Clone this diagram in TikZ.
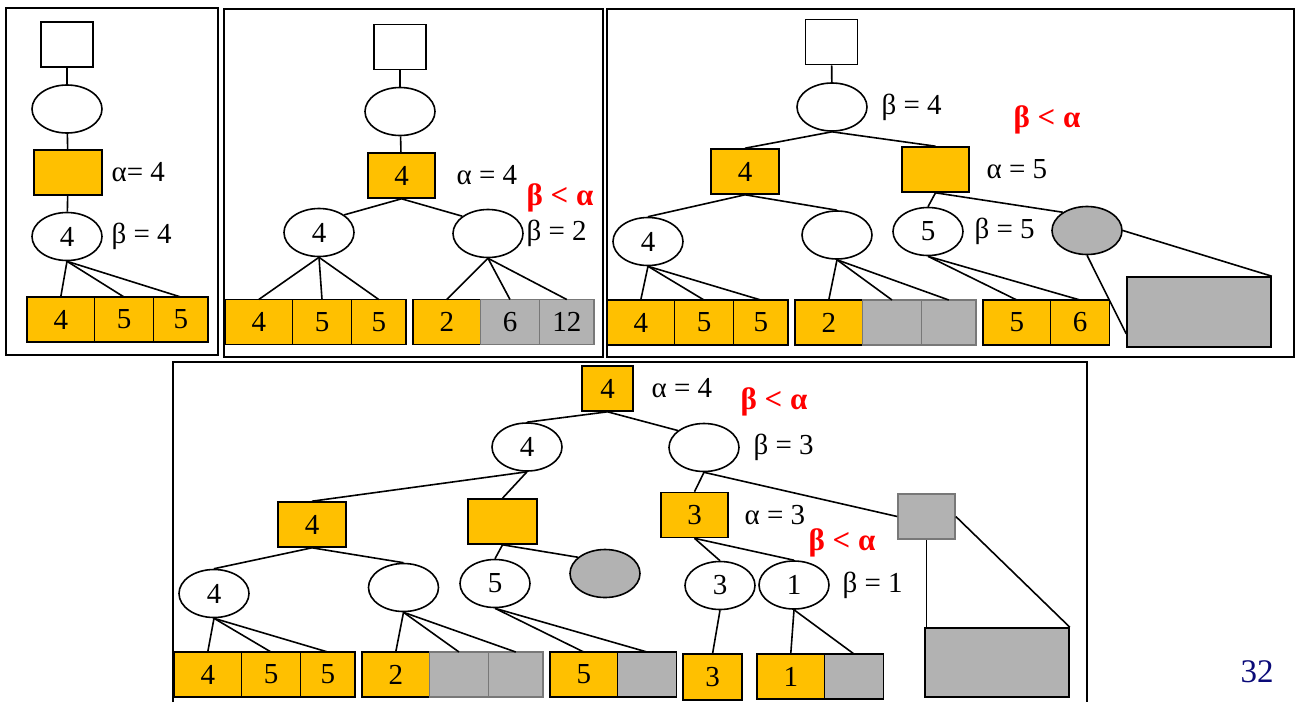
\documentclass[tikz,border=0pt]{standalone}
\usepackage{fontspec}
\setmainfont{Liberation Serif}
\usepackage{tikz}
\usetikzlibrary{calc, shapes.geometric, positioning}

\definecolor{gold}{RGB}{255,192,0}
\definecolor{cutgray}{RGB}{178,178,178}
\definecolor{edgegray}{RGB}{120,120,120}
\definecolor{pagenavy}{RGB}{10,10,120}

\begin{document}
\begin{tikzpicture}[x=1pt, y=-1pt, line width=1.6pt,
    font=\fontsize{29}{34}\selectfont,
    root/.style={rectangle, draw, minimum width=52pt, minimum height=45pt, inner sep=0pt},
    maxbox/.style={rectangle, draw, fill=gold, minimum width=#1, minimum height=45pt, inner sep=0pt},
    maxbox/.default=68pt,
    minnode/.style={ellipse, draw, minimum width=70pt, minimum height=48pt, inner sep=0pt},
    cutnode/.style={minnode, fill=cutgray},
    leaf/.style={rectangle, draw, fill=gold, minimum width=#1, minimum height=45pt, inner sep=0pt, outer sep=0pt},
    leaf/.default=67.5pt,
    cutleaf/.style={leaf=#1, fill=cutgray, draw=edgegray},
    cutleaf/.default=59pt,
    cutbox/.style={rectangle, draw=edgegray, fill=cutgray, minimum width=57pt, minimum height=45pt},
    subtree/.style={rectangle, draw, fill=cutgray, minimum width=144pt, minimum height=70pt},
    val/.style={inner sep=0pt},
    cut/.style={inner sep=0pt, text=red, font=\fontsize{31}{36}\selectfont\bfseries}]
    \useasboundingbox (0,0) rectangle (1295,702);

    % frames
    \draw (6,8) rectangle (218,355);
    \draw (224,9) rectangle (603,357);
    \draw (607,9) rectangle (1294,357);
    \draw (173,702) |- (1087,362) -- (1087,702);

    % first step
    \node[root] (a0) at (67,44.5) {};
    \node[minnode] (a1) at (67,109) {};
    \node[maxbox] (a2) at (68,172.5) {};
    \node[minnode] (a3) at (67,236.5) {4};
    \node[val, right=8pt of a2] (a2v) {α= 4};
    \node[val, right=8pt of a3] (a3v) {β = 4};
    \node[leaf] (a4) at (60.75,319.5) {4};
    \node[leaf=59pt, right=0pt of a4] (a5) {5};
    \node[leaf=54.5pt, right=0pt of a5] (a6) {5};
    \draw (a0) -- (a1);
    \draw (a1) -- (a2);
    \draw (a2) -- (a3);
    \draw (a3.south) -- (a4.north);
    \draw (a3.south) -- (a5.north);
    \draw (a3.south) -- (a6.north);

    % second step
    \node[root] (b0) at (400,47) {};
    \node[minnode] (b1) at (400,111.5) {};
    \node[maxbox=67pt] (b2) at (401.5,175.5) {4};
    \node[minnode] (b3) at (319,232.5) {4};
    \node[minnode] (b4) at (488,233.5) {};
    \node[val, right=20pt of b2] (b2v) {α = 4};
    \node[val, right=2pt of b4] (b4v) {β = 2};
    \node[cut] (b4c) at (560,198) {β < α};
    \node[leaf] (b5) at (258.75,322) {4};
    \node[leaf=59pt, right=0pt of b5] (b6) {5};
    \node[leaf=54.5pt, right=0pt of b6] (b7) {5};
    \node[leaf] (b8) at (446.75,322) {2};
    \node[cutleaf, right=0pt of b8] (b9) {6};
    \node[cutleaf=54.5pt, right=0pt of b9] (b10) {12};
    \draw (b0) -- (b1);
    \draw (b1) -- (b2);
    \draw (b2.south) -- (b3.35);
    \draw (b2.south) -- (b4.146);
    \draw (b3.south) -- (b5.north);
    \draw (b3.south) -- (b6.north);
    \draw (b3.south) -- (b7.north);
    \draw (b4.south) -- (b8.north);
    \draw (b4.south) -- (b9.north);
    \draw (b4.south) -- (b10.north);

    % third step
    \node[root] (c0) at (831.5,42) {};
    \node[minnode] (c1) at (832,107) {};
    \node[maxbox] (c2) at (745,171.5) {4};
    \node[maxbox=67pt] (c3) at (935.5,169.5) {};
    \node[minnode] (c4) at (648,241.5) {4};
    \node[minnode] (c5) at (837,235) {};
    \node[minnode] (c6) at (928,231.5) {5};
    \node[cutnode] (c7) at (1087,230.5) {};
    \node[val, right=13pt of c1] (c1v) {β = 4};
    \node[cut] (c1c) at (1047,120) {β < α};
    \node[val, right=16pt of c3] (c3v) {α = 5};
    \node[val, right=10pt of c6] (c6v) {β = 5};
    \node[leaf] (c8) at (640.75,322.5) {4};
    \node[leaf=59pt, right=0pt of c8] (c9) {5};
    \node[leaf=54.5pt, right=0pt of c9] (c10) {5};
    \node[leaf] (c11) at (828.75,322.5) {2};
    \node[cutleaf, right=0pt of c11] (c12) {};
    \node[cutleaf=54.5pt, right=0pt of c12] (c13) {};
    \node[leaf] (c14) at (1016.75,322.5) {5};
    \node[leaf=59pt, right=0pt of c14] (c15) {6};
    \node[subtree] (c16) at (1199,312) {};
    \draw (c0) -- (c1);
    \draw (c1.south) -- (c2.north);
    \draw (c1.south) -- (c3.north);
    \draw (c2.south) -- (c4.north);
    \draw (c2.south) -- (c5.north);
    \draw (c3.south) -- (c6.north);
    \draw (c3.south) -- (c7.143);
    \draw (c4.south) -- (c8.north);
    \draw (c4.south) -- (c9.north);
    \draw (c4.south) -- (c10.north);
    \draw (c5.south) -- (c11.north);
    \draw (c5.south) -- (c12.north);
    \draw (c5.south) -- (c13.north);
    \draw (c6.south) -- (c14.north);
    \draw (c6.south) -- (c15.north);
    \draw (c7.south) -- ([yshift=14pt]c16.south west);
    \draw (c7.east) -- (c16.north east);

    % fourth step
    \node[maxbox=51pt] (d0) at (607.5,388.5) {4};
    \node[minnode] (d1) at (527,447) {4};
    \node[minnode] (d2) at (704,447.5) {};
    \node[maxbox] (d3) at (312,524.5) {4};
    \node[maxbox=69pt] (d4) at (502.5,521.5) {};
    \node[maxbox=67pt] (d5) at (694.5,515) {3};
    \node[cutbox] (d6) at (926.5,516.5) {};
    \node[minnode] (d7) at (214,593.5) {4};
    \node[minnode] (d8) at (403.5,587.5) {};
    \node[minnode] (d9) at (495,583.5) {5};
    \node[cutnode] (d10) at (605,573.5) {};
    \node[minnode] (d11) at (720,585.5) {3};
    \node[minnode] (d12) at (794,585) {1};
    \node[subtree, minimum height=69pt] (d13) at (997,662.5) {};
    \node[val, right=17pt of d0] (d0v) {α = 4};
    \node[cut] (d0c) at (774,402) {β < α};
    \node[val, right=13pt of d2] (d2v) {β = 3};
    \node[val, right=15pt of d5] (d5v) {α = 3};
    \node[cut] (d5c) at (842,543) {β < α};
    \node[val, right=12pt of d12] (d12v) {β = 1};
    \node[leaf] (d14) at (207.75,674.5) {4};
    \node[leaf=59pt, right=0pt of d14] (d15) {5};
    \node[leaf=54.5pt, right=0pt of d15] (d16) {5};
    \node[leaf] (d17) at (395.75,674.5) {2};
    \node[cutleaf, right=0pt of d17] (d18) {};
    \node[cutleaf=54.5pt, right=0pt of d18] (d19) {};
    \node[leaf] (d20) at (583.75,674.5) {5};
    \node[cutleaf, draw=black, right=0pt of d20] (d21) {};
    \node[leaf=59pt, minimum height=46pt] (d22) at (712.5,677) {3};
    \node[leaf] (d23) at (790.75,676.5) {1};
    \node[cutleaf, draw=black, right=0pt of d23] (d24) {};
    \draw (d0.south) -- (d1.north);
    \draw (d0.south) -- (d2.147);
    \draw (d1.south) -- (d3.north);
    \draw (d1.south) -- (d4.north);
    \draw (d2.south) -- (d5.north);
    \draw (d2.south) -- (d6.west);
    \draw (d3.south) -- (d7.north);
    \draw (d3.south) -- (d8.north);
    \draw (d4.south) -- (d9.north);
    \draw (d4.south) -- (d10.149);
    \draw (d5.south) -- (d11.north);
    \draw (d5.south) -- (d12.north);
    \draw (d6.south) -- (d6.south |- d13.north);
    \draw (d6.east) -- (d13.north east);
    \draw (d7.south) -- (d14.north);
    \draw (d7.south) -- (d15.north);
    \draw (d7.south) -- (d16.north);
    \draw (d8.south) -- (d17.north);
    \draw (d8.south) -- (d18.north);
    \draw (d8.south) -- (d19.north);
    \draw (d9.south) -- (d20.north);
    \draw (d9.south) -- (d21.north);
    \draw (d11.south) -- (d22.north);
    \draw (d12.south) -- (d23.north);
    \draw (d12.south) -- (d24.north);

    \node[text=pagenavy, font=\fontsize{33}{38}\selectfont] (page) at (1257,672) {32};
\end{tikzpicture}
\end{document}
